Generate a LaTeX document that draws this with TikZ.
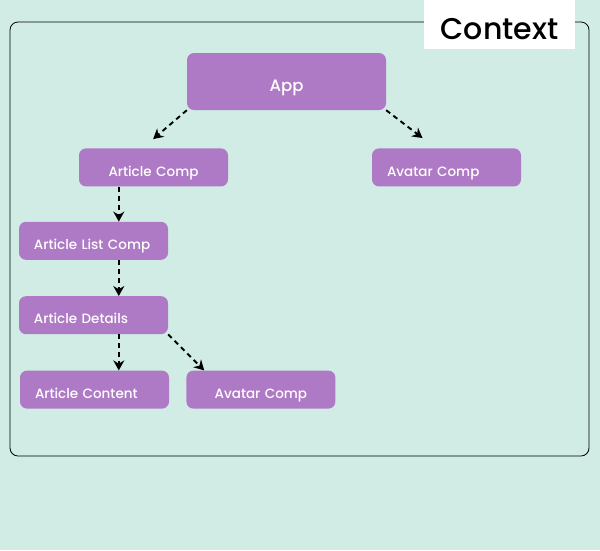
\documentclass[tikz,border=0pt]{standalone}
\usepackage{fontspec}
\setmainfont{Poppins Medium}
\usetikzlibrary{arrows, arrows.meta, positioning}
\definecolor{bgteal}{RGB}{208,236,229}
\definecolor{comppurple}{RGB}{175,122,197}
\tikzstyle{comp} = [rectangle, rounded corners=7pt, minimum width=149pt, minimum height=38pt, text width=119pt, inner xsep=15pt, inner ysep=0pt, text height=17.4pt, text depth=0pt, align=center, fill=comppurple, text=white, font=\fontsize{13.5}{15}\selectfont]
\tikzstyle{compl} = [comp, align=left]
\tikzstyle{frame} = [rounded corners=8pt, draw=black, line width=0.8pt]
\tikzstyle{label} = [rectangle, fill=white, minimum width=151pt, minimum height=49pt, inner sep=0pt, text height=29pt, text depth=0pt, font=\fontsize{30}{34}\selectfont]
\tikzstyle{arrow} = [line width=1.9pt, dash pattern=on 5pt off 4pt, ->, >={Stealth[length=10pt, width=11pt]}]

\begin{document}
\begin{tikzpicture}[x=1pt, y=-1pt, node distance=36pt]
\fill[bgteal] (0,0) rectangle (600,550);
\useasboundingbox (0,0) rectangle (600,550);

\draw[frame] (10,22) rectangle (589,456);
\node (ctx) [label] at (499.5,24.5) {Context};

\node (app) [comp, minimum width=199pt, minimum height=57pt, text width=169pt, text height=20pt, font=\fontsize{16.5}{18}\selectfont] at (286.5,81.5) {App};

\node (artcomp) [comp, below=38pt of app, xshift=-133pt] {Article Comp};
\node (avtop) [compl, below=38pt of app, xshift=160pt] {Avatar Comp};

\node (artlist) [compl, below=35pt of artcomp, xshift=-60pt] {Article List Comp};
\node (details) [compl, below=of artlist] {Article Details};
\node (content) [compl, below=of details, xshift=1pt] {Article Content};
\node (avbot) [comp, right=17pt of content] {Avatar Comp};

\draw [arrow, shorten >=14pt] (app.south west) -- ([xshift=-11pt]artcomp.north);
\draw [arrow, shorten >=16.7pt] (app.south east) -- ([xshift=64pt]avtop.north west);
\draw [arrow] ([xshift=40pt]artcomp.south west) -- ([xshift=100pt]artlist.north west);
\draw [arrow] ([xshift=100pt]artlist.south west) -- ([xshift=100pt]details.north west);
\draw [arrow] ([xshift=100pt]details.south west) -- ([xshift=99pt]content.north west);
\draw [arrow] (details.south east) -- ([xshift=18pt]avbot.north west);

\end{tikzpicture}
\end{document}
